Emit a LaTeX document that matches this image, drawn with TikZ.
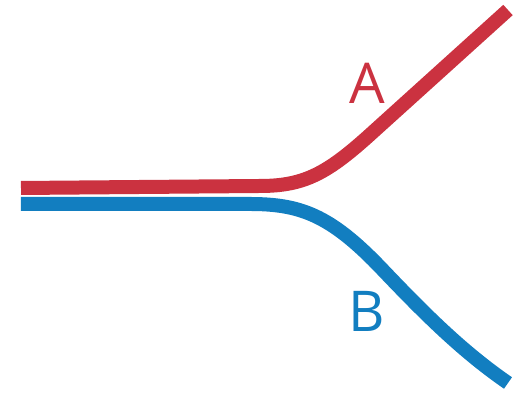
\documentclass[tikz,border=0pt]{standalone}
\usepackage{fontspec}
\setsansfont{Open Sans}
\usepackage{tikz}
\usetikzlibrary{positioning}
\usepackage{xcolor}
\definecolor{routeA}{RGB}{203,50,64}
\definecolor{routeB}{RGB}{18,126,192}

\begin{document}
\begin{tikzpicture}[
    route/.style={line width=0.28cm, line cap=butt, line join=round},
    tag/.style={inner sep=0pt, font=\sffamily\fontsize{32}{32}\selectfont}
  ]
      \useasboundingbox (0,0) rectangle (10.32,7.86);

      % Points
      \coordinate (A0) at (0.42,4.10);
      \coordinate (A1) at (5.20,4.14);
      \coordinate (A2) at (7.46,5.22);
      \coordinate (A3) at (10.16,7.66);
      \coordinate (B0) at (0.42,3.78);
      \coordinate (B1) at (5.00,3.78);
      \coordinate (B2) at (7.60,2.52);
      \coordinate (B3) at (10.16,0.20);

      % Route A, bending up
      \draw[route, routeA] (A0) -- (A1)
        .. controls (6.10,4.14) and (6.56,4.40) .. (A2) -- (A3);

      % Route B, bending down
      \draw[route, routeB] (B0) -- (B1)
        .. controls (6.00,3.78) and (6.60,3.56) .. (B2)
        .. controls (8.40,1.68) and (9.20,0.86) .. (B3);

      % Labels
      \node[tag, text=routeA] (labA) at (7.34,6.20) {A};
      \node[tag, text=routeB] (labB) at (7.34,1.64) {B};
    \end{tikzpicture}
\end{document}
